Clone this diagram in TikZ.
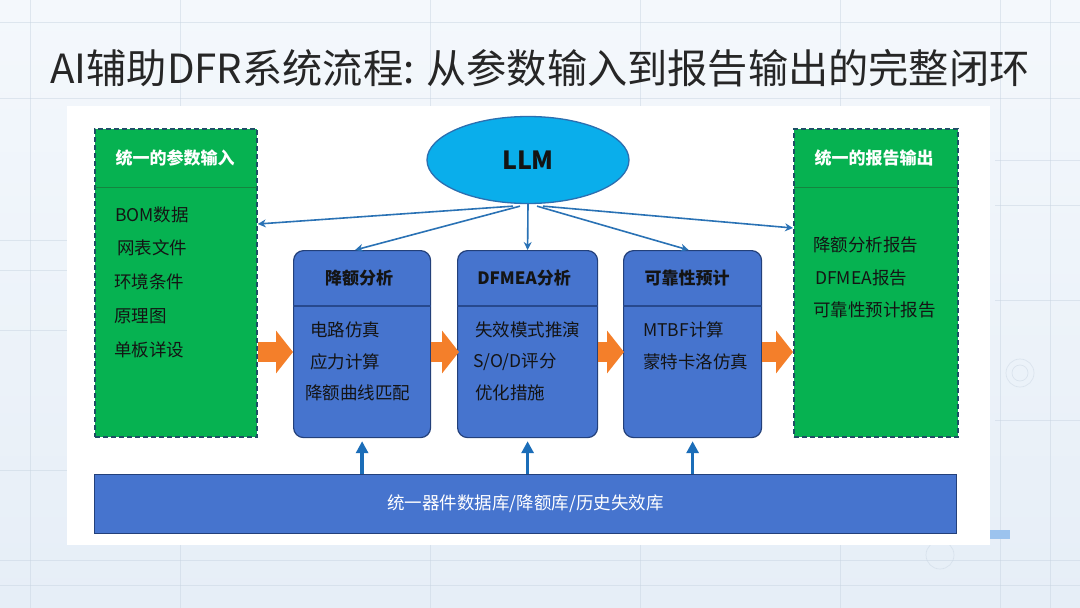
\documentclass[tikz,border=0pt]{standalone}
\usepackage{fontspec}
\setmainfont{Noto Sans CJK SC}
\usetikzlibrary{shapes.geometric,arrows.meta}
\definecolor{bgtop}{HTML}{F4F8FC}
\definecolor{bgbot}{HTML}{E6EEF7}
\definecolor{gridc}{HTML}{C9D5E2}
\definecolor{gfill}{HTML}{06B251}
\definecolor{gborder}{HTML}{1E4F66}
\definecolor{gline}{HTML}{14843F}
\definecolor{bfill}{HTML}{4674CE}
\definecolor{bborder}{HTML}{23407A}
\definecolor{bline}{HTML}{27498E}
\definecolor{llmfill}{HTML}{0AAEEB}
\definecolor{llmborder}{HTML}{2C6FB0}
\definecolor{conn}{HTML}{2A72B5}
\definecolor{upc}{HTML}{1B6DB8}
\definecolor{orangeA}{HTML}{F47F2A}
\definecolor{txt}{HTML}{141414}
\definecolor{smallblue}{HTML}{9CC3EE}
\tikzset{
  gbox/.style={draw=gborder, fill=gfill, dash pattern=on 5pt off 3pt, line width=1.8pt, anchor=north west, inner sep=0pt},
  bbox/.style={draw=bborder, fill=bfill, line width=1.2pt, rounded corners=10pt, anchor=north west, inner sep=0pt, minimum height=187pt},
  ghead/.style={text=white, font=\bfseries\fontsize{17}{20}\selectfont, inner sep=0pt},
  bhead/.style={text=txt, font=\bfseries\fontsize{17}{20}\selectfont, inner sep=0pt},
  item/.style={text=txt, font=\fontsize{17.5}{20}\selectfont, anchor=west, inner sep=0pt},
  llmconn/.style={draw=conn, line width=1.6pt, -{Stealth[length=8pt,width=8pt]}},
  upconn/.style={draw=upc, line width=3.4pt, -{Triangle[length=12pt,width=12pt]}},
  flow/.style={draw=orangeA, line width=20pt, -{Triangle[length=17pt,width=42pt]}},
  bgline/.style={draw=gridc, line width=0.7pt, opacity=0.5}
}
\begin{document}
\begin{tikzpicture}[x=1pt,y=-1pt]
\useasboundingbox (0,0) rectangle (1080,608);
% background
\shade[top color=bgtop, bottom color=bgbot] (0,0) rectangle (1080,608);
\foreach \yy in {22,98,560,585} {\path[bgline] (0,\yy) -- (1080,\yy);}
\foreach \xx in {30,180,430,640,840,1000,1050} {\path[bgline] (\xx,0) -- (\xx,608);}
\path[bgline] (995,160) -- (1080,160) (995,205) -- (1080,205) (995,300) -- (1080,300) (995,420) -- (1080,420);
\path[bgline] (1020,373) circle (14pt) (1020,373) circle (8pt);
\path[bgline] (940,555) circle (14pt);
\path[bgline] (0,240) -- (67,240) (0,270) -- (67,270) (0,330) -- (67,330) (0,470) -- (67,470);
\fill[white] (67,106) rectangle (990,545);
\fill[smallblue] (990,530) rectangle (1010,539);
% title
\node[font=\fontsize{40.2}{46}\selectfont, text=black!85, inner sep=0pt] (title) at (540,68) {AI辅助DFR系统流程: 从参数输入到报告输出的完整闭环};
% input box
\node[gbox, minimum width=162pt, minimum height=308pt] (inbox) at (94,128) {};
\draw[gline, line width=1pt] ([xshift=1pt]inbox.west |- 0,187) -- ([xshift=-1pt]inbox.east |- 0,187);
\node[ghead] (inhead) at (175,158) {统一的参数输入};
\node[item] (in1) at (115,215) {BOM数据};
\node[item] (in2) at (117,248) {网表文件};
\node[item] (in3) at (114,282) {环境条件};
\node[item] (in4) at (114,316) {原理图};
\node[item] (in5) at (114,350) {单板详设};
% output box
\node[gbox, minimum width=164pt, minimum height=308pt] (outbox) at (793,128) {};
\draw[gline, line width=1pt] ([xshift=1pt]outbox.west |- 0,187) -- ([xshift=-1pt]outbox.east |- 0,187);
\node[ghead] (outhead) at (874,158) {统一的报告输出};
\node[item] (out1) at (813,245) {降额分析报告};
\node[item] (out2) at (815,278) {DFMEA报告};
\node[item] (out3) at (813,310) {可靠性预计报告};
% process boxes
\node[bbox, minimum width=137pt] (b1) at (293,250) {};
\node[bbox, minimum width=140pt] (b2) at (457,250) {};
\node[bbox, minimum width=138pt] (b3) at (623,250) {};
\foreach \b in {b1,b2,b3} {\draw[bline, line width=1.1pt] (\b.west |- 0,306) -- (\b.east |- 0,306);}
\node[bhead] (h1) at (359,278) {降额分析};
\node[bhead] (h2) at (524,278) {DFMEA分析};
\node[bhead] (h3) at (687,278) {可靠性预计};
\node[item] (p11) at (310,330) {电路仿真};
\node[item] (p12) at (310,362) {应力计算};
\node[item] (p13) at (305,393) {降额曲线匹配};
\node[item] (p21) at (475,330) {失效模式推演};
\node[item] (p22) at (473,362) {S/O/D评分};
\node[item] (p23) at (475,393) {优化措施};
\node[item] (p31) at (643,330) {MTBF计算};
\node[item] (p32) at (643,362) {蒙特卡洛仿真};
% LLM
\node[ellipse, draw=llmborder, fill=llmfill, line width=1.3pt, minimum width=202pt, minimum height=87pt, font=\bfseries\fontsize{25}{28}\selectfont, text=txt] (llm) at (528,160) {LLM};
% database bar
\node[draw=bborder, fill=bfill, line width=1pt, anchor=north west, minimum width=862pt, minimum height=59pt, inner sep=0pt] (db) at (94,474) {};
\node[text=white, font=\fontsize{17.5}{20}\selectfont, inner sep=0pt] (dbtext) at (db.center) {统一器件数据库/降额库/历史失效库};
% LLM connectors
\coordinate (tin) at (inbox.east |- 0,224);
\coordinate (tout) at (outbox.west |- 0,228);
\draw[llmconn] ([xshift=-15pt,yshift=-2pt]llm.south) -- (tin);
\draw[llmconn] ([xshift=-8pt,yshift=-2pt]llm.south) -- ([xshift=-7pt]b1.north);
\draw[llmconn] (llm.south) -- (b2.north);
\draw[llmconn] ([xshift=9pt,yshift=-2pt]llm.south) -- ([xshift=-4pt]b3.north);
\draw[llmconn] ([xshift=15pt,yshift=-2pt]llm.south) -- (tout);
% flow arrows
\draw[flow] (inbox.east |- 0,352) -- (b1.west |- 0,352);
\draw[flow] (b1.east |- 0,352) -- ([xshift=2pt]b2.west |- 0,352);
\draw[flow] (b2.east |- 0,352) -- ([xshift=1pt]b3.west |- 0,352);
\draw[flow] (b3.east |- 0,352) -- (outbox.west |- 0,352);
% database up arrows
\draw[upconn] (db.north -| b1.south) -- ([yshift=-3pt]b1.south);
\draw[upconn] (db.north -| b2.south) -- ([yshift=-3pt]b2.south);
\draw[upconn] (db.north -| b3.south) -- ([yshift=-3pt]b3.south);
\end{tikzpicture}
\end{document}
